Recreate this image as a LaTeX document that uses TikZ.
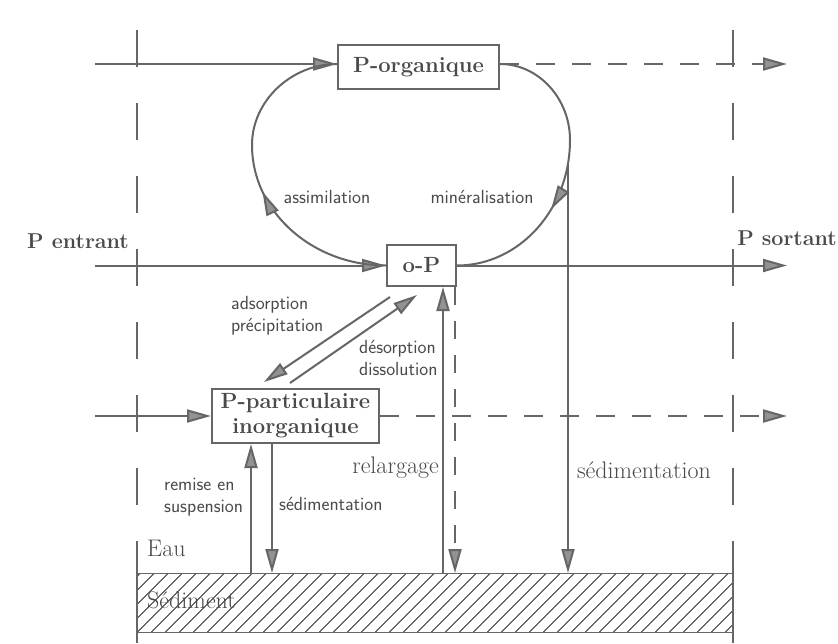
\documentclass[tikz,border=0pt]{standalone}
\usetikzlibrary{arrows.meta,decorations.markings,patterns.meta,calc}
\definecolor{ln}{HTML}{666666}
\definecolor{tx}{HTML}{4A4A4A}
\definecolor{af}{HTML}{929292}
\begin{document}
\begin{tikzpicture}[x=1pt,y=-1pt,
  tip/.tip={Triangle[length=24pt,width=13pt,fill=af]},
  ln/.style={draw=ln,line width=2pt},
  flow/.style={ln,-tip},
  dflow/.style={ln,-tip,dash pattern=on 19pt off 17pt},
  bound/.style={ln,dash pattern=on 36.5pt off 36.5pt},
  box/.style={draw=ln,line width=2pt,fill=white,text=tx,inner sep=0pt,
    font=\fontsize{22}{25}\selectfont\bfseries,align=center},
  big/.style={text=tx,inner sep=0pt,font=\fontsize{24}{28}\selectfont},
  bigb/.style={text=tx,inner sep=0pt,font=\fontsize{21.5}{25}\selectfont\bfseries},
  small/.style={text=tx,inner sep=0pt,align=left,font=\fontsize{19}{22}\selectfont\sffamily},
  markarr/.style={postaction={decorate},decoration={markings,mark=at position #1 with {\arrow{tip}}}}
]
\useasboundingbox[fill=white] (0,0) rectangle (838,643);

% boundaries
\draw[bound] (137,30) -- (137,541);
\draw[ln] (137,541) -- (137,643);
\draw[bound] (733,30) -- (733,541);
\draw[ln] (733,541) -- (733,643);

% sediment
\node[draw=ln,line width=1.6pt,inner sep=0pt,anchor=north west,
  minimum width=596pt,minimum height=59pt,
  pattern={Lines[angle=45,distance=10.5pt,line width=1.3pt]},pattern color=ln] (sed) at (137,573) {};

% boxes
\node[box,minimum width=161pt,minimum height=44pt] (porg) at (418.5,67) {P-organique};
\node[box,minimum width=69pt,minimum height=41pt] (op) at (421.5,265.5) {o-P};
\node[box,minimum width=167pt,minimum height=54pt] (ppi) at (295.5,416) {P-particulaire\\inorganique};

% inputs / outputs
\coordinate (in1) at (95,64);
\coordinate (in2) at (95,265.5);
\coordinate (in3) at (95,416);
\coordinate (out1) at (787,64);
\coordinate (out2) at (787,265.5);
\coordinate (out3) at (787,416);
\draw[flow] (in1) -- (porg.west |- in1);
\draw[flow] (in2) -- (op.west);
\draw[flow] (in3) -- (ppi.west);
\draw[dflow] (porg.east |- out1) -- (out1);
\draw[flow] (op.east) -- (out2);
\draw[dflow] (ppi.east) -- (out3);

% loop
\draw[ln,markarr=0.46] (op.west) .. controls (312.5,265.5) and (252,211.8) .. (252,145)
  .. controls (252,100.8) and (291.4,64) .. (porg.west |- in1);
\draw[ln,markarr=0.62] (porg.east |- out1) .. controls (538.6,64) and (570,98.6) .. (570,140)
  .. controls (570,209.6) and (519,265.5) .. (op.east);

% sedimentation from organic loop
\coordinate (sbr) at (568,163);
\draw[flow] (sbr) -- (sbr |- sed.north);

% relargage
\coordinate (r1) at ($(op.south)+(21.5,0)$);
\coordinate (r2) at ($(op.south)+(33.5,0)$);
\draw[flow] (r1 |- sed.north) -- (r1);
\draw[ln,-tip,dash pattern=on 18pt off 16pt] (r2) -- (r2 |- sed.north);

% particulate exchange with sediment
\coordinate (s1) at ($(ppi.south)+(-44.5,0)$);
\coordinate (s2) at ($(ppi.south)+(-23.5,0)$);
\draw[flow] (s1 |- sed.north) -- (s1);
\draw[flow] (s2) -- (s2 |- sed.north);

% adsorption / desorption
\coordinate (a1) at (390,297);
\coordinate (a2) at (264,382);
\coordinate (d1) at (290,383);
\coordinate (d2) at (417,295);
\draw[flow] (a1) -- (a2);
\draw[flow] (d1) -- (d2);

% labels
\node[bigb] (lpe) at (78,241) {P entrant};
\node[bigb,anchor=east] (lps) at (837,238) {P sortant};
\node[small] (lass) at (327,197) {assimilation};
\node[small] (lmin) at (482,197) {minéralisation};
\node[small,anchor=west] (lads) at (231,316) {adsorption\\précipitation};
\node[small,anchor=west] (ldes) at (359,358) {désorption\\dissolution};
\node[big,anchor=east] (lrel) at (439,468) {relargage};
\node[big] (lsed) at (644,470) {sédimentation};
\node[small,anchor=west] (lrem) at (164,497) {remise en\\suspension};
\node[small,anchor=west] (lsed2) at (279,504) {sédimentation};
\node[big,anchor=west] (leau) at (147,548) {Eau};
\node[big,anchor=west] (lsdm) at (147,600) {Sédiment};
\end{tikzpicture}
\end{document}
